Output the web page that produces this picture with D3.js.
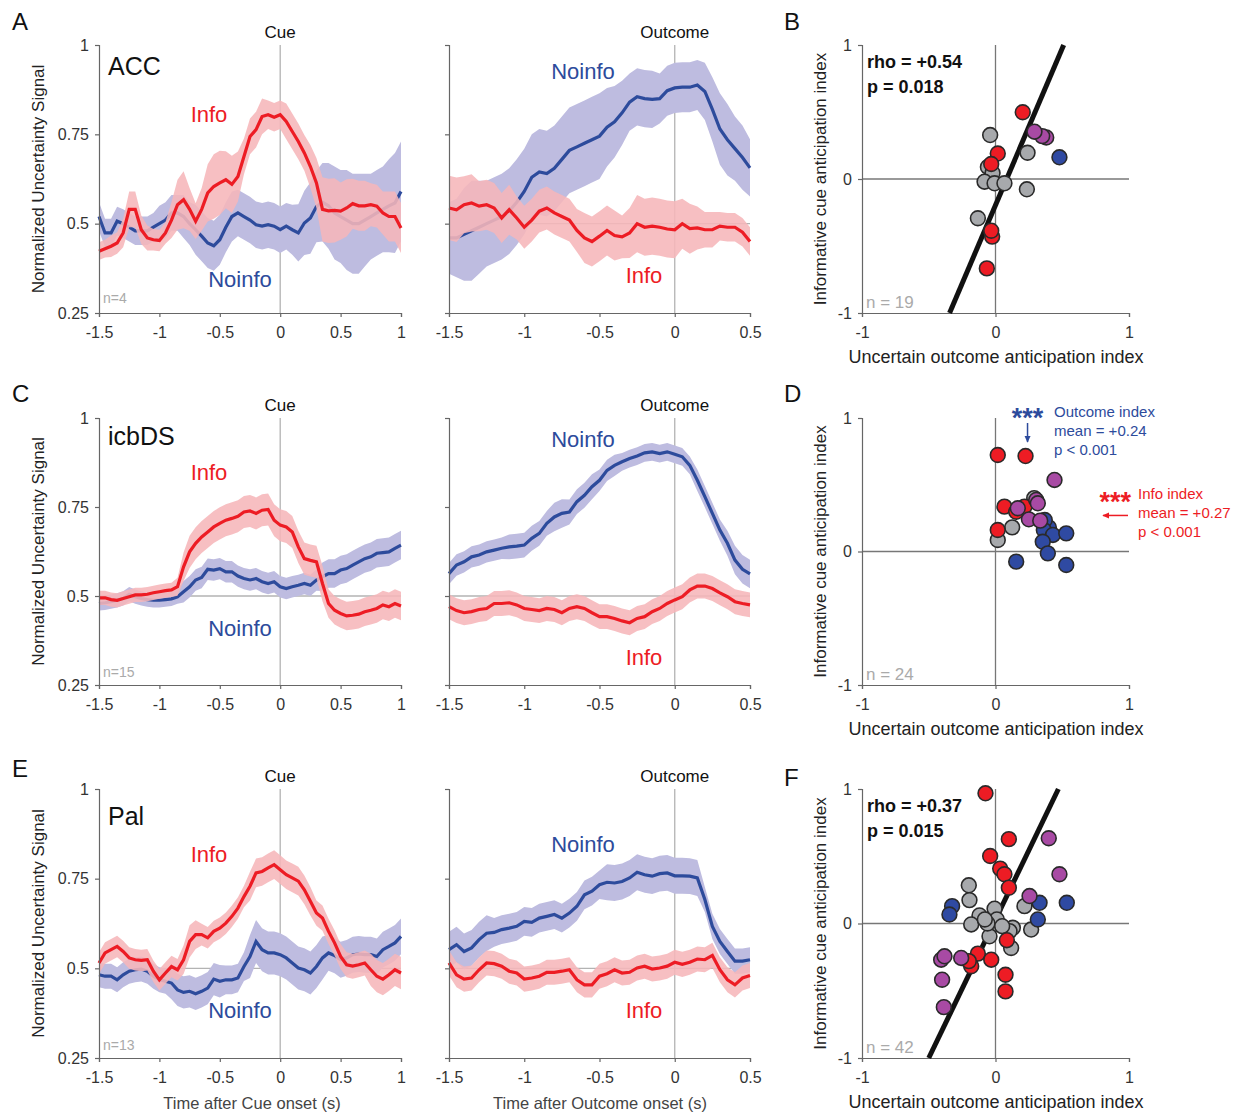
<!DOCTYPE html>
<html>
<head>
<meta charset="utf-8">
<script src="https://cdn.jsdelivr.net/npm/d3@7"></script>
<style>
  body { margin: 0; background: #fff; }
  svg { font-family: "Liberation Sans", Arial, sans-serif; }
</style>
</head>
<body>
<svg id="fig" width="1238" height="1114"></svg>
<script>
// time bases (s) for cue- and outcome-aligned traces
const cueT = d3.range(51).map((i) => +(-1.5 + i * 0.05).toFixed(2));
const outT = d3.range(41).map((i) => +(-1.5 + i * 0.05).toFixed(2));
const cueTicks = [-1.5, -1, -0.5, 0, 0.5, 1];
const outTicks = [-1.5, -1, -0.5, 0, 0.5];
const yTicks = [0.25, 0.5, 0.75, 1];
const scTicks = [-1, 0, 1];

// ---- ACC (A) ----
const accCueInfo = [0.423,0.43,0.437,0.446,0.474,0.54,0.54,0.483,0.46,0.455,
  0.453,0.474,0.51,0.553,0.567,0.54,0.507,0.54,0.586,0.604,
  0.614,0.623,0.61,0.632,0.688,0.744,0.763,0.8,0.805,0.798,
  0.805,0.786,0.758,0.73,0.698,0.66,0.614,0.54,0.536,0.537,
  0.535,0.544,0.556,0.55,0.55,0.553,0.549,0.53,0.52,0.52,0.488];
const accCueInfoSem = [0.025,0.025,0.03,0.03,0.04,0.05,0.05,0.04,0.035,0.03,
  0.03,0.03,0.05,0.07,0.08,0.06,0.05,0.06,0.08,0.09,
  0.09,0.08,0.08,0.07,0.05,0.05,0.05,0.05,0.04,0.04,
  0.04,0.05,0.05,0.05,0.05,0.06,0.07,0.09,0.09,0.09,
  0.08,0.08,0.07,0.07,0.07,0.06,0.06,0.06,0.07,0.07,0.07];
const accCueNoinfo = [0.52,0.474,0.474,0.507,0.5,0.49,0.48,0.48,0.48,0.49,
  0.5,0.51,0.53,0.53,0.52,0.5,0.483,0.465,0.446,0.438,
  0.455,0.49,0.52,0.53,0.52,0.51,0.497,0.493,0.497,0.493,
  0.483,0.493,0.483,0.474,0.502,0.516,0.548,0.56,0.55,0.53,
  0.52,0.51,0.5,0.5,0.51,0.52,0.53,0.54,0.55,0.558,0.59];
const accCueNoinfoSem = [0.04,0.04,0.04,0.04,0.04,0.04,0.04,0.04,0.04,0.04,
  0.05,0.05,0.05,0.05,0.06,0.06,0.07,0.07,0.07,0.07,
  0.07,0.07,0.07,0.065,0.065,0.065,0.065,0.065,0.065,0.065,
  0.065,0.065,0.07,0.08,0.09,0.1,0.1,0.11,0.12,0.13,
  0.13,0.14,0.14,0.14,0.13,0.12,0.12,0.12,0.13,0.14,0.14];
const accOutNoinfo = [0.46,0.46,0.47,0.48,0.49,0.5,0.51,0.52,0.535,0.56,
  0.59,0.63,0.645,0.64,0.655,0.68,0.705,0.715,0.725,0.735,
  0.745,0.77,0.785,0.81,0.84,0.855,0.85,0.848,0.85,0.872,
  0.88,0.882,0.882,0.888,0.87,0.82,0.765,0.735,0.71,0.685,0.656];
const accOutNoinfoSem = [0.1,0.11,0.13,0.14,0.13,0.12,0.12,0.12,0.12,0.12,
  0.12,0.12,0.12,0.12,0.12,0.12,0.12,0.12,0.12,0.12,
  0.12,0.11,0.1,0.09,0.08,0.08,0.08,0.08,0.07,0.07,
  0.07,0.07,0.07,0.07,0.08,0.09,0.1,0.1,0.09,0.09,0.08];
const accOutInfo = [0.544,0.539,0.553,0.558,0.549,0.553,0.544,0.516,0.539,0.516,
  0.49,0.51,0.535,0.544,0.53,0.52,0.51,0.481,0.46,0.45,
  0.465,0.481,0.467,0.463,0.474,0.5,0.49,0.493,0.49,0.485,
  0.483,0.5,0.486,0.488,0.483,0.483,0.493,0.49,0.49,0.476,0.45];
const accOutInfoSem = [0.09,0.09,0.08,0.08,0.07,0.07,0.07,0.07,0.07,0.06,
  0.06,0.06,0.06,0.06,0.06,0.06,0.06,0.06,0.07,0.07,
  0.07,0.07,0.07,0.06,0.07,0.08,0.08,0.08,0.08,0.08,
  0.08,0.07,0.07,0.06,0.05,0.05,0.04,0.04,0.04,0.04,0.04];

// ---- icbDS (C) ----
const dsCueInfo = [0.495,0.495,0.49,0.488,0.493,0.498,0.503,0.503,0.505,0.509,
  0.512,0.515,0.517,0.526,0.582,0.624,0.648,0.666,0.68,0.694,
  0.704,0.713,0.718,0.724,0.736,0.739,0.732,0.741,0.743,0.713,
  0.699,0.694,0.68,0.638,0.605,0.6,0.596,0.535,0.479,0.46,
  0.451,0.444,0.446,0.449,0.456,0.46,0.465,0.475,0.47,0.479,0.472];
const dsCueInfoSem = [0.02,0.02,0.02,0.02,0.02,0.02,0.02,0.02,0.02,0.02,
  0.02,0.02,0.02,0.025,0.04,0.045,0.045,0.045,0.045,0.045,
  0.045,0.045,0.045,0.045,0.045,0.045,0.045,0.045,0.045,0.045,
  0.045,0.045,0.045,0.045,0.045,0.045,0.045,0.05,0.04,0.04,
  0.04,0.04,0.04,0.04,0.04,0.04,0.04,0.04,0.04,0.04,0.04];
const dsCueNoinfo = [0.479,0.481,0.484,0.488,0.493,0.505,0.498,0.493,0.49,0.488,
  0.488,0.49,0.492,0.498,0.512,0.526,0.545,0.552,0.575,0.573,
  0.577,0.568,0.568,0.556,0.549,0.545,0.549,0.54,0.535,0.54,
  0.526,0.521,0.526,0.53,0.535,0.53,0.545,0.554,0.563,0.563,
  0.573,0.577,0.587,0.596,0.605,0.61,0.62,0.622,0.624,0.634,0.643];
const dsCueNoinfoSem = [0.02,0.02,0.02,0.02,0.02,0.02,0.02,0.02,0.02,0.02,
  0.02,0.02,0.02,0.02,0.03,0.03,0.03,0.03,0.03,0.03,
  0.03,0.03,0.03,0.03,0.03,0.03,0.03,0.03,0.03,0.03,
  0.03,0.03,0.03,0.03,0.03,0.03,0.03,0.04,0.04,0.04,
  0.04,0.04,0.04,0.04,0.04,0.04,0.04,0.04,0.04,0.04,0.04];
const dsOutNoinfo = [0.563,0.587,0.596,0.61,0.615,0.624,0.629,0.634,0.638,0.64,
  0.643,0.662,0.676,0.704,0.722,0.732,0.736,0.765,0.783,0.807,
  0.825,0.853,0.867,0.877,0.886,0.893,0.902,0.905,0.9,0.905,
  0.898,0.891,0.867,0.825,0.779,0.732,0.685,0.648,0.601,0.575,0.562];
const dsOutNoinfoSem = [0.03,0.03,0.03,0.03,0.03,0.03,0.03,0.03,0.035,0.035,
  0.035,0.035,0.035,0.035,0.04,0.04,0.035,0.035,0.035,0.035,
  0.03,0.03,0.03,0.025,0.025,0.025,0.025,0.025,0.025,0.025,
  0.025,0.025,0.025,0.03,0.03,0.03,0.03,0.035,0.04,0.04,0.04];
const dsOutInfo = [0.47,0.459,0.453,0.456,0.462,0.465,0.479,0.479,0.481,0.475,
  0.465,0.462,0.459,0.465,0.462,0.453,0.465,0.47,0.465,0.453,
  0.442,0.442,0.437,0.43,0.425,0.437,0.442,0.456,0.465,0.479,
  0.489,0.498,0.517,0.528,0.528,0.521,0.509,0.498,0.484,0.479,0.475];
const dsOutInfoSem = [0.035,0.035,0.035,0.035,0.035,0.035,0.035,0.035,0.035,0.035,
  0.035,0.035,0.035,0.035,0.035,0.035,0.035,0.035,0.035,0.035,
  0.035,0.035,0.035,0.035,0.035,0.035,0.035,0.035,0.035,0.035,
  0.035,0.035,0.035,0.035,0.035,0.035,0.035,0.035,0.035,0.035,0.035];

// ---- Pal (E) ----
const palCueInfo = [0.515,0.543,0.552,0.561,0.547,0.529,0.524,0.522,0.524,0.492,
  0.468,0.487,0.505,0.496,0.524,0.575,0.594,0.594,0.585,0.603,
  0.612,0.626,0.645,0.668,0.7,0.729,0.766,0.77,0.78,0.789,
  0.775,0.761,0.752,0.743,0.719,0.687,0.654,0.64,0.603,0.571,
  0.533,0.51,0.506,0.51,0.515,0.496,0.478,0.47,0.482,0.496,0.487];
const palCueInfoSem = [0.03,0.03,0.03,0.03,0.03,0.03,0.03,0.03,0.03,0.03,
  0.03,0.03,0.03,0.03,0.04,0.045,0.04,0.03,0.03,0.03,
  0.03,0.03,0.03,0.03,0.03,0.04,0.04,0.04,0.04,0.04,
  0.04,0.04,0.04,0.04,0.04,0.04,0.035,0.035,0.035,0.035,
  0.035,0.035,0.035,0.035,0.035,0.045,0.045,0.045,0.045,0.045,0.045];
const palCueNoinfo = [0.482,0.478,0.478,0.468,0.482,0.492,0.496,0.498,0.492,0.478,
  0.468,0.464,0.459,0.44,0.433,0.436,0.429,0.436,0.445,0.47,
  0.464,0.468,0.468,0.473,0.505,0.533,0.575,0.552,0.543,0.543,
  0.538,0.529,0.515,0.501,0.496,0.487,0.505,0.529,0.543,0.536,
  0.524,0.529,0.538,0.54,0.538,0.538,0.533,0.552,0.561,0.571,0.589];
const palCueNoinfoSem = [0.035,0.035,0.035,0.035,0.035,0.035,0.035,0.035,0.035,0.035,
  0.035,0.035,0.045,0.045,0.045,0.045,0.045,0.045,0.045,0.045,
  0.045,0.04,0.04,0.04,0.04,0.06,0.06,0.06,0.06,0.06,
  0.06,0.06,0.06,0.06,0.06,0.06,0.06,0.06,0.05,0.05,
  0.05,0.05,0.05,0.05,0.05,0.05,0.05,0.05,0.05,0.05,0.05];
const palOutNoinfo = [0.552,0.566,0.547,0.557,0.58,0.598,0.6,0.608,0.612,0.617,
  0.631,0.628,0.64,0.645,0.65,0.64,0.654,0.673,0.705,0.715,
  0.733,0.74,0.738,0.742,0.752,0.768,0.761,0.757,0.764,0.766,
  0.758,0.758,0.757,0.752,0.692,0.617,0.575,0.547,0.52,0.52,0.524];
const palOutNoinfoSem = [0.05,0.05,0.05,0.05,0.05,0.05,0.04,0.04,0.04,0.04,
  0.04,0.04,0.04,0.04,0.04,0.04,0.04,0.04,0.04,0.04,
  0.04,0.05,0.05,0.05,0.05,0.05,0.05,0.05,0.05,0.05,
  0.05,0.05,0.05,0.05,0.035,0.035,0.035,0.035,0.035,0.035,0.035];
const palOutInfo = [0.515,0.482,0.47,0.473,0.496,0.515,0.513,0.506,0.492,0.487,
  0.47,0.473,0.478,0.489,0.489,0.492,0.496,0.468,0.454,0.454,
  0.478,0.485,0.496,0.487,0.489,0.501,0.506,0.498,0.501,0.506,
  0.517,0.511,0.517,0.526,0.524,0.536,0.496,0.468,0.454,0.473,0.48];
const palOutInfoSem = dsOutInfoSem;

// ---- scatter points [outcome index, cue index, class] ----
const accPts = [
  [-0.04,0.328,'gray'],[0.24,0.196,'gray'],[-0.057,0.09,'gray'],[-0.022,0.045,'gray'],
  [-0.082,-0.02,'gray'],[-0.007,-0.032,'gray'],[0.067,-0.032,'gray'],[0.235,-0.077,'gray'],
  [-0.132,-0.293,'gray'],
  [0.479,0.162,'blue'],
  [0.204,0.498,'red'],[0.017,0.19,'red'],[-0.032,0.112,'red'],[-0.025,-0.43,'red'],
  [-0.032,-0.386,'red'],[-0.065,-0.667,'red'],
  [0.38,0.31,'purple'],[0.35,0.32,'purple'],[0.292,0.353,'purple']
];
const dsPts = [
  [0.29,0.4,'gray'],[0.125,0.181,'gray'],[0.017,0.086,'gray'],
  [0.4,0.18,'blue'],[0.369,0.236,'blue'],[0.362,0.161,'blue'],[0.43,0.124,'blue'],
  [0.53,0.136,'blue'],[0.354,0.073,'blue'],[0.392,-0.014,'blue'],[0.155,-0.076,'blue'],
  [0.53,-0.101,'blue'],
  [0.017,0.723,'red'],[0.225,0.715,'red'],[0.067,0.336,'red'],[0.155,0.298,'red'],
  [0.217,0.336,'red'],[0.017,0.161,'red'],
  [0.442,0.536,'purple'],[0.305,0.386,'purple'],[0.317,0.361,'purple'],[0.167,0.324,'purple'],
  [0.25,0.241,'purple'],[0.335,0.231,'purple']
];
const palPts = [
  [-0.2,0.284,'gray'],[-0.195,0.174,'gray'],[-0.12,0.06,'gray'],[-0.007,0.11,'gray'],
  [-0.182,-0.007,'gray'],[-0.032,-0.015,'gray'],[0.01,0.03,'gray'],[-0.045,-0.095,'gray'],
  [0.13,-0.032,'gray'],[0.105,-0.057,'gray'],[0.267,-0.045,'gray'],[0.117,-0.182,'gray'],
  [0.217,0.129,'gray'],[-0.06,0.0,'gray'],[0.05,-0.02,'gray'],[-0.08,0.03,'gray'],
  [-0.325,0.129,'blue'],[-0.345,0.067,'blue'],[0.33,0.154,'blue'],[0.317,0.03,'blue'],
  [0.534,0.154,'blue'],
  [-0.075,0.968,'red'],[0.1,0.627,'red'],[-0.04,0.502,'red'],[0.035,0.408,'red'],
  [0.067,0.366,'red'],[0.1,0.266,'red'],[0.085,-0.124,'red'],[-0.132,-0.224,'red'],
  [-0.032,-0.269,'red'],[-0.182,-0.318,'red'],[-0.2,-0.28,'red'],[0.075,-0.381,'red'],
  [0.075,-0.505,'red'],
  [0.399,0.634,'purple'],[0.479,0.366,'purple'],[0.255,0.204,'purple'],[-0.257,-0.256,'purple'],
  [-0.407,-0.269,'purple'],[-0.382,-0.244,'purple'],[-0.4,-0.418,'purple'],[-0.387,-0.622,'purple']
];
// regression fits [slope, intercept]
const accFit = [2.34, -0.195];
const palFit = [2.06, 0.03];

const RED = '#ed1c24', BLUE = '#2d4b9c', RED_BAND = '#f6b6b9', BLUE_BAND = '#bebce0';
const dotColor = { gray: '#a7a9ac', blue: '#2f4aa2', red: '#ed1c24', purple: '#a84aa4' };
const fmt = (d) => String(d); // plain hyphen minus, like the original

const svg = d3.select('#fig');

const rows = [
  { top: 45, bottom: 313, region: 'ACC', regionY: 30, n: 'n=4', nY: 10, L: 'A', R: 'B', LY: 30, RY: 30,
    cue: [accCueInfo, accCueInfoSem, accCueNoinfo, accCueNoinfoSem],
    out: [accOutInfo, accOutInfoSem, accOutNoinfo, accOutNoinfoSem],
    lab: { ci: 77, cn: 242, on: 34, oi: 238 }, pts: accPts, fit: accFit, sn: 'n = 19',
    stats: ['rho = +0.54', 'p = 0.018'] },
  { top: 418, bottom: 685, region: 'icbDS', regionY: 27, n: 'n=15', nY: 8, L: 'C', R: 'D', LY: 402, RY: 402,
    cue: [dsCueInfo, dsCueInfoSem, dsCueNoinfo, dsCueNoinfoSem],
    out: [dsOutInfo, dsOutInfoSem, dsOutNoinfo, dsOutNoinfoSem],
    lab: { ci: 62, cn: 218, on: 29, oi: 247 }, pts: dsPts, fit: null, sn: 'n = 24', stats: null },
  { top: 789, bottom: 1058, region: 'Pal', regionY: 36, n: 'n=13', nY: 8, L: 'E', R: 'F', LY: 777, RY: 786,
    cue: [palCueInfo, palCueInfoSem, palCueNoinfo, palCueNoinfoSem],
    out: [palOutInfo, palOutInfoSem, palOutNoinfo, palOutNoinfoSem],
    lab: { ci: 73, cn: 229, on: 63, oi: 229 }, pts: palPts, fit: palFit, sn: 'n = 42',
    stats: ['rho = +0.37', 'p = 0.015'] }
];

function styleAxis(g) {
  g.select('.domain').attr('stroke', '#666').attr('stroke-width', 1.2);
  g.selectAll('.tick line').attr('stroke', '#666').attr('stroke-width', 1.2);
  g.selectAll('.tick text').attr('fill', '#333').style('font-size', '16px')
    .style('font-family', '"Liberation Sans", Arial, sans-serif');
}

function tracePanel(row, times, data, x0, x1, ticks, isCue) {
  const x = d3.scaleLinear().domain([-1.5, ticks[ticks.length - 1]]).range([x0, x1]);
  const y = d3.scaleLinear().domain([0.25, 1]).range([row.bottom, row.top]);
  const g = svg.append('g');

  // reference lines
  g.append('line').attr('x1', x0).attr('x2', x1).attr('y1', y(0.5)).attr('y2', y(0.5))
    .attr('stroke', '#b3b3b3').attr('stroke-width', 1.3);
  g.append('line').attr('x1', x(0)).attr('x2', x(0)).attr('y1', row.top).attr('y2', row.bottom)
    .attr('stroke', '#b3b3b3').attr('stroke-width', 1.3);

  const pts = (m, s) => times.map((t, i) => ({ t: t, m: m[i], s: s[i] }));
  const area = d3.area().x((d) => x(d.t)).y0((d) => y(d.m - d.s)).y1((d) => y(d.m + d.s));
  const line = d3.line().x((d) => x(d.t)).y((d) => y(d.m));
  const info = pts(data[0], data[1]);
  const noinfo = pts(data[2], data[3]);

  g.append('path').attr('d', area(noinfo)).attr('fill', BLUE_BAND);
  g.append('path').attr('d', line(noinfo)).attr('fill', 'none').attr('stroke', BLUE).attr('stroke-width', 3.2);
  g.append('path').attr('d', area(info)).attr('fill', RED_BAND).attr('opacity', 0.88);
  g.append('path').attr('d', line(info)).attr('fill', 'none').attr('stroke', RED).attr('stroke-width', 3.2);

  const ya = g.append('g').attr('transform', 'translate(' + x0 + ',0)')
    .call(d3.axisLeft(y).tickValues(yTicks).tickSize(4).tickPadding(6)
      .tickFormat(isCue ? fmt : () => ''));
  styleAxis(ya);
  const xa = g.append('g').attr('transform', 'translate(0,' + row.bottom + ')')
    .call(d3.axisBottom(x).tickValues(ticks).tickSize(4).tickPadding(10).tickFormat(fmt));
  styleAxis(xa);

  g.append('text').attr('x', x(0)).attr('y', row.top - 7).attr('text-anchor', 'middle')
    .style('font-size', '17px').attr('fill', '#111').text(isCue ? 'Cue' : 'Outcome');

  if (isCue) {
    g.append('text').attr('x', 209).attr('y', row.top + row.lab.ci).attr('text-anchor', 'middle')
      .style('font-size', '22px').attr('fill', RED).text('Info');
    g.append('text').attr('x', 240).attr('y', row.top + row.lab.cn).attr('text-anchor', 'middle')
      .style('font-size', '22px').attr('fill', BLUE).text('Noinfo');
    g.append('text').attr('x', 108).attr('y', row.top + row.regionY)
      .style('font-size', '25px').attr('fill', '#111').text(row.region);
    g.append('text').attr('x', 103).attr('y', row.bottom - row.nY)
      .style('font-size', '14px').attr('fill', '#aaa').text(row.n);
    g.append('text').attr('transform', 'translate(44,' + (row.top + row.bottom) / 2 + ') rotate(-90)')
      .attr('text-anchor', 'middle').style('font-size', '17px').attr('fill', '#222')
      .text('Normalized Uncertainty Signal');
  } else {
    g.append('text').attr('x', 583).attr('y', row.top + row.lab.on).attr('text-anchor', 'middle')
      .style('font-size', '22px').attr('fill', BLUE).text('Noinfo');
    g.append('text').attr('x', 644).attr('y', row.top + row.lab.oi).attr('text-anchor', 'middle')
      .style('font-size', '22px').attr('fill', RED).text('Info');
  }
}

function scatterPanel(row) {
  const x = d3.scaleLinear().domain([-1, 1]).range([862, 1129]);
  const y = d3.scaleLinear().domain([-1, 1]).range([row.bottom, row.top]);
  const g = svg.append('g');

  g.append('line').attr('x1', x(-1)).attr('x2', x(1)).attr('y1', y(0)).attr('y2', y(0))
    .attr('stroke', '#777').attr('stroke-width', 1.3);
  g.append('line').attr('x1', x(0)).attr('x2', x(0)).attr('y1', y(-1)).attr('y2', y(1))
    .attr('stroke', '#777').attr('stroke-width', 1.3);

  const ya = g.append('g').attr('transform', 'translate(' + x(-1) + ',0)')
    .call(d3.axisLeft(y).tickValues(scTicks).tickSize(4).tickPadding(6).tickFormat(fmt));
  styleAxis(ya);
  const xa = g.append('g').attr('transform', 'translate(0,' + y(-1) + ')')
    .call(d3.axisBottom(x).tickValues(scTicks).tickSize(4).tickPadding(10).tickFormat(fmt));
  styleAxis(xa);

  if (row.fit) {
    const [m, b] = row.fit;
    g.append('line').attr('x1', x((-1 - b) / m)).attr('y1', y(-1))
      .attr('x2', x((1 - b) / m)).attr('y2', y(1))
      .attr('stroke', '#111').attr('stroke-width', 5);
  }

  const order = ['gray', 'blue', 'red', 'purple'];
  const sorted = order.flatMap((c) => row.pts.filter((p) => p[2] === c));
  g.selectAll('circle').data(sorted).join('circle')
    .attr('cx', (d) => x(d[0])).attr('cy', (d) => y(d[1])).attr('r', 7.4)
    .attr('fill', (d) => dotColor[d[2]]).attr('stroke', '#2a2a2a').attr('stroke-width', 1.6);

  g.append('text').attr('x', 866).attr('y', row.bottom - 5)
    .style('font-size', '17px').attr('fill', '#aaa').text(row.sn);

  if (row.stats) {
    row.stats.forEach((s, i) => {
      g.append('text').attr('x', 867).attr('y', row.top + 23 + i * 25)
        .style('font-size', '18px').style('font-weight', 'bold').attr('fill', '#111').text(s);
    });
  }

  g.append('text').attr('x', 996).attr('y', row.bottom + 50).attr('text-anchor', 'middle')
    .style('font-size', '18px').attr('fill', '#222').text('Uncertain outcome anticipation index');
  g.append('text').attr('transform', 'translate(826,' + (row.top + row.bottom) / 2 + ') rotate(-90)')
    .attr('text-anchor', 'middle').style('font-size', '17px').attr('fill', '#222')
    .text('Informative cue anticipation index');
}

svg.append('defs').selectAll('marker').data([['ab', BLUE], ['ar', RED]]).join('marker')
  .attr('id', (d) => d[0]).attr('viewBox', '0 0 10 10').attr('refX', 8).attr('refY', 5)
  .attr('markerWidth', 5).attr('markerHeight', 5).attr('orient', 'auto-start-reverse')
  .append('path').attr('d', 'M0,1 L9,5 L0,9 Z').attr('fill', (d) => d[1]);

rows.forEach((row) => {
  tracePanel(row, cueT, row.cue, 99, 401, cueTicks, true);
  tracePanel(row, outT, row.out, 449, 750, outTicks, false);
  scatterPanel(row);
  svg.append('text').attr('x', 12).attr('y', row.LY).style('font-size', '24px').attr('fill', '#111').text(row.L);
  svg.append('text').attr('x', 784).attr('y', row.RY).style('font-size', '24px').attr('fill', '#111').text(row.R);
});

// D annotations
const dRow = rows[1];
const dx = d3.scaleLinear().domain([-1, 1]).range([862, 1129]);
const dy = d3.scaleLinear().domain([-1, 1]).range([dRow.bottom, dRow.top]);
const ann = svg.append('g').style('font-size', '15px');
ann.append('text').attr('x', dx(0.24)).attr('y', 427).attr('text-anchor', 'middle')
  .style('font-size', '27px').style('font-weight', 'bold').attr('fill', BLUE).text('***');
ann.append('line').attr('x1', dx(0.24)).attr('x2', dx(0.24)).attr('y1', 423).attr('y2', 442)
  .attr('stroke', BLUE).attr('stroke-width', 1.5).attr('marker-end', 'url(#ab)');
['Outcome index', 'mean = +0.24', 'p < 0.001'].forEach((s, i) => {
  ann.append('text').attr('x', 1054).attr('y', 417 + i * 19).attr('fill', BLUE).text(s);
});
ann.append('text').attr('x', 1131).attr('y', 511).attr('text-anchor', 'end')
  .style('font-size', '27px').style('font-weight', 'bold').attr('fill', RED).text('***');
ann.append('line').attr('x1', 1128).attr('x2', 1103).attr('y1', dy(0.27)).attr('y2', dy(0.27))
  .attr('stroke', RED).attr('stroke-width', 1.5).attr('marker-end', 'url(#ar)');
['Info index', 'mean = +0.27', 'p < 0.001'].forEach((s, i) => {
  ann.append('text').attr('x', 1138).attr('y', 499 + i * 19).attr('fill', RED).text(s);
});

// time axis titles
svg.append('text').attr('x', 252).attr('y', 1109).attr('text-anchor', 'middle')
  .style('font-size', '16.5px').attr('fill', '#444').text('Time after Cue onset (s)');
svg.append('text').attr('x', 600).attr('y', 1109).attr('text-anchor', 'middle')
  .style('font-size', '16.5px').attr('fill', '#444').text('Time after Outcome onset (s)');
</script>
</body>
</html>
